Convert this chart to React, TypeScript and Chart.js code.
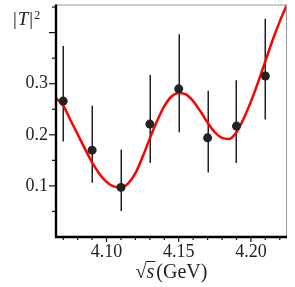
import React, { useEffect, useRef } from 'react';
import { Chart, registerables } from 'chart.js';
Chart.register(...registerables);

const pointX = [4.07, 4.09, 4.11, 4.13, 4.15, 4.17, 4.19, 4.21];
const pointY = [0.266, 0.17, 0.097, 0.221, 0.29, 0.194, 0.217, 0.315];
const errLow = [0.187, 0.106, 0.051, 0.145, 0.205, 0.126, 0.145, 0.23];
const errHigh = [0.374, 0.257, 0.171, 0.317, 0.397, 0.286, 0.307, 0.427];

const curveX = [4.065, 4.07, 4.075, 4.08, 4.085, 4.09, 4.095, 4.1, 4.105, 4.11, 4.115, 4.12, 4.125, 4.13, 4.135, 4.14, 4.145, 4.15, 4.155, 4.16, 4.165, 4.17, 4.175, 4.18, 4.185, 4.19, 4.195, 4.2, 4.205, 4.21, 4.215, 4.22, 4.225];
const curveY = [0.272, 0.257, 0.229, 0.201, 0.173, 0.146, 0.124, 0.108, 0.099, 0.097, 0.105, 0.125, 0.157, 0.193, 0.227, 0.256, 0.275, 0.282, 0.279, 0.266, 0.246, 0.224, 0.205, 0.194, 0.192, 0.205, 0.232, 0.265, 0.303, 0.344, 0.385, 0.422, 0.455];

const xTickLabels = [4.1, 4.15, 4.2];
const yTickLabels = [0.1, 0.2, 0.3];

const X_MIN = 4.065, X_MAX = 4.225, Y_MIN = 0, Y_MAX = 0.455;
const SERIF = '"Liberation Serif", serif';

const decor = {
  id: 'decor',
  beforeDatasetsDraw(chart: any) {
    const { ctx, scales: { x, y } } = chart;
    ctx.save();
    ctx.strokeStyle = '#222';
    ctx.lineWidth = 1.5;
    pointX.forEach((px, i) => {
      const X = Math.round(x.getPixelForValue(px)) + 0.25;
      ctx.beginPath();
      ctx.moveTo(X, y.getPixelForValue(errLow[i]));
      ctx.lineTo(X, y.getPixelForValue(errHigh[i]));
      ctx.stroke();
    });
    ctx.restore();
  },
  afterDraw(chart: any) {
    const { ctx, chartArea: a, scales: { x, y } } = chart;
    ctx.save();
    // frame
    ctx.strokeStyle = '#999';
    ctx.lineWidth = 1;
    ctx.beginPath();
    ctx.moveTo(a.left, a.top + 0.5);
    ctx.lineTo(a.right - 0.5, a.top + 0.5);
    ctx.lineTo(a.right - 0.5, a.bottom);
    ctx.stroke();
    ctx.strokeStyle = '#000';
    ctx.lineWidth = 2.4;
    ctx.beginPath();
    ctx.moveTo(a.left, a.top);
    ctx.lineTo(a.left, a.bottom);
    ctx.lineTo(a.right, a.bottom);
    ctx.stroke();
    // ticks
    ctx.lineWidth = 1.2;
    ctx.strokeStyle = '#111';
    for (let k = 407; k <= 422; k++) {
      const X = x.getPixelForValue(k / 100);
      const len = k % 5 === 0 ? 5 : 3;
      ctx.beginPath();
      ctx.moveTo(X, a.bottom);
      ctx.lineTo(X, a.bottom + len);
      ctx.stroke();
    }
    for (let k = 1; k <= 9; k++) {
      const Y = y.getPixelForValue(k * 0.05);
      const len = k % 2 === 0 ? 7 : 4;
      ctx.beginPath();
      ctx.moveTo(a.left, Y);
      ctx.lineTo(a.left - len, Y);
      ctx.stroke();
    }
    // x title: √s(GeV)
    ctx.fillStyle = '#222';
    ctx.textBaseline = 'alphabetic';
    ctx.textAlign = 'left';
    const f = `20px ${SERIF}`;
    const fi = `italic 20px ${SERIF}`;
    ctx.font = f;
    const w1 = ctx.measureText('√').width;
    const w3 = ctx.measureText('(GeV)').width;
    ctx.font = fi;
    const w2 = ctx.measureText('s').width;
    const total = w1 + w2 + w3 + 2;
    const cx = (a.left + a.right) / 2;
    const sx = cx - total / 2;
    const base = 278;
    ctx.font = f;
    ctx.fillText('√', sx, base);
    ctx.font = fi;
    ctx.fillText('s', sx + w1, base);
    ctx.font = f;
    ctx.fillText('(GeV)', sx + w1 + w2 + 2, base);
    ctx.lineWidth = 1;
    ctx.strokeStyle = '#222';
    ctx.beginPath();
    ctx.moveTo(sx + w1 - 1, base - 16.5);
    ctx.lineTo(sx + w1 + w2 + 1, base - 16.5);
    ctx.stroke();
    // y title |T|²
    let tx = 13;
    const tb = 25;
    ctx.font = `19px ${SERIF}`;
    ctx.fillText('|', tx, tb);
    tx += ctx.measureText('|').width + 1;
    ctx.font = `italic 19px ${SERIF}`;
    ctx.fillText('T', tx, tb);
    tx += ctx.measureText('T').width + 1;
    ctx.font = `19px ${SERIF}`;
    ctx.fillText('|', tx, tb);
    tx += ctx.measureText('|').width + 1;
    ctx.font = `12px ${SERIF}`;
    ctx.fillText('2', tx, 19);
    ctx.restore();
  },
};

export default function App() {
  const ref = useRef<HTMLCanvasElement | null>(null);
  useEffect(() => {
    if (!ref.current) return;
    const chart = new Chart(ref.current, {
      type: 'scatter',
      data: {
        datasets: [
          {
            label: 'data',
            data: pointX.map((v, i) => ({ x: v, y: pointY[i] })),
            backgroundColor: '#222',
            borderColor: '#222',
            pointRadius: 4.5,
            pointBorderWidth: 0,
            showLine: false,
          },
          {
            label: 'fit',
            type: 'line',
            data: curveX.map((v, i) => ({ x: v, y: curveY[i] })),
            borderColor: '#ff0000',
            borderWidth: 2.5,
            pointRadius: 0,
            fill: false,
            cubicInterpolationMode: 'monotone',
          } as any,
        ],
      },
      options: {
        animation: false,
        responsive: false,
        maintainAspectRatio: false,
        layout: { padding: { top: 3, right: 8, left: 0, bottom: 0 } },
        plugins: { legend: { display: false }, tooltip: { enabled: false }, title: { display: false } },
        scales: {
          x: {
            type: 'linear',
            min: X_MIN,
            max: X_MAX,
            grid: { display: false, drawTicks: false },
            border: { display: false },
            afterBuildTicks: (s: any) => { s.ticks = xTickLabels.map((v) => ({ value: v })); },
            ticks: {
              autoSkip: false,
              maxRotation: 0,
              padding: 4,
              color: '#222',
              font: { family: SERIF, size: 18 },
              callback: (v: any) => Number(v).toFixed(2),
            },
            afterFit: (s: any) => { s.height = 50; s.paddingLeft = 0; s.paddingRight = 0; },
          },
          y: {
            type: 'linear',
            min: Y_MIN,
            max: Y_MAX,
            grid: { display: false, drawTicks: false },
            border: { display: false },
            afterBuildTicks: (s: any) => { s.ticks = yTickLabels.map((v) => ({ value: v })); },
            ticks: {
              autoSkip: false,
              padding: 8,
              color: '#222',
              font: { family: SERIF, size: 18 },
              callback: (v: any) => Number(v).toFixed(1),
            },
            afterFit: (s: any) => { s.width = 56; s.paddingTop = 0; s.paddingBottom = 0; },
          },
        },
      },
      plugins: [decor],
    });
    return () => chart.destroy();
  }, []);
  return (
    <div style={{ position: 'fixed', left: 0, top: 0, width: 295, height: 287, background: '#fff' }}>
      <canvas ref={ref} width={295} height={287} style={{ width: 295, height: 287, display: 'block' }} />
    </div>
  );
}
